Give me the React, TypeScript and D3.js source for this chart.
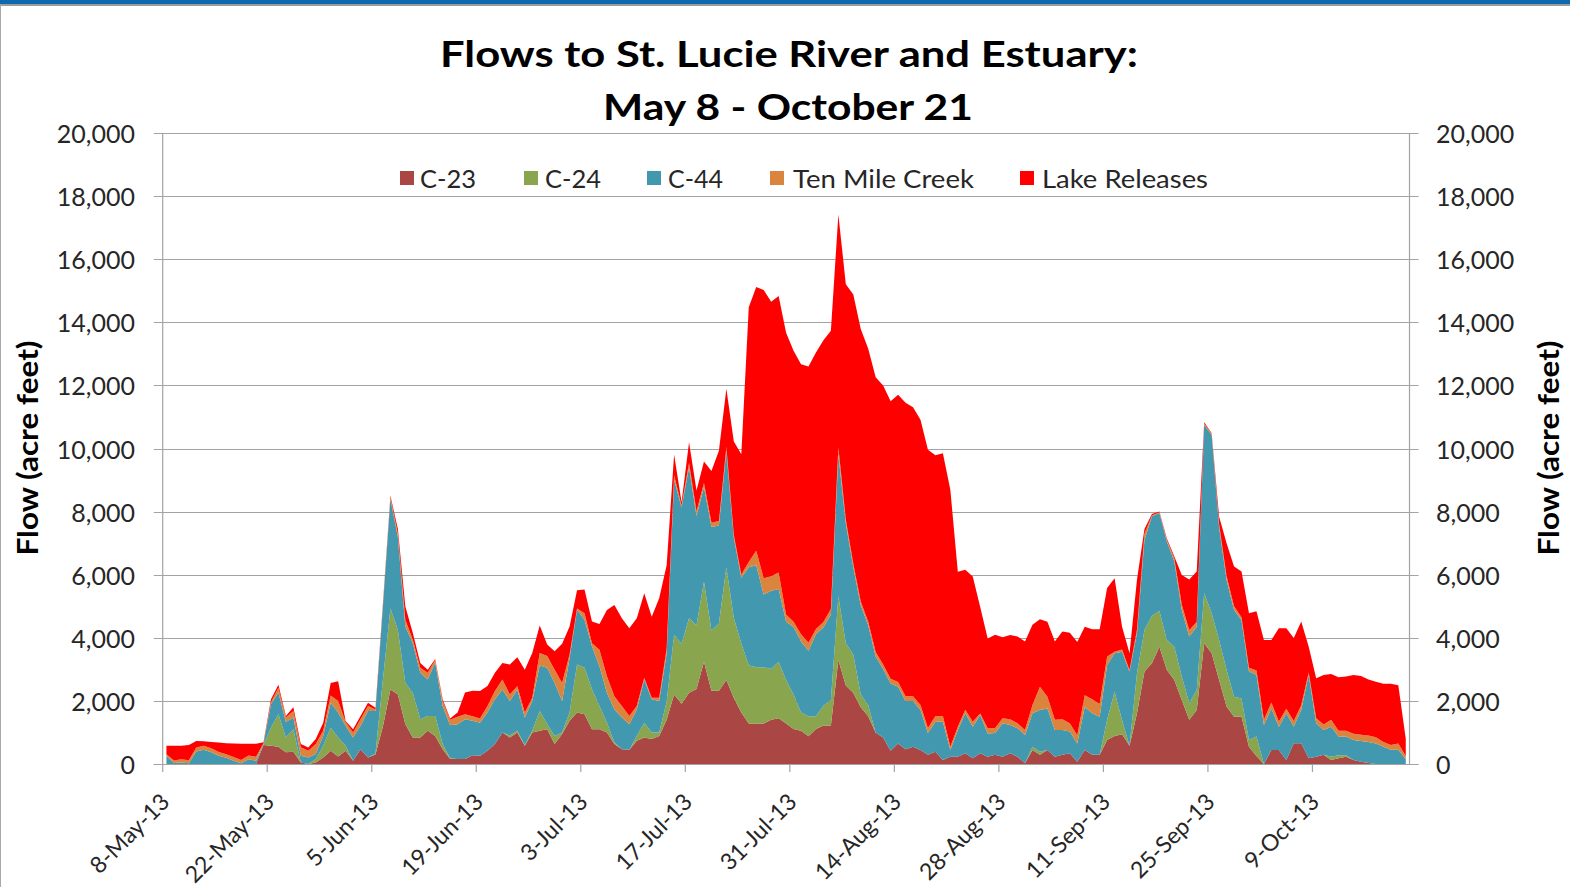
import React from 'react';
import * as d3 from 'd3';

// ---------- DATA (daily flows, acre feet) ----------
const startDate = new Date(2013, 4, 8); // 8-May-13, daily through 21-Oct-13

const seriesNames = ['C-23', 'C-24', 'C-44', 'Ten Mile Creek', 'Lake Releases'];

const c23 = [
  0, 0, 0, 0, 0, 0, 0, 0, 0, 0, 0, 0, 0, 600, 580, 550, 370, 390, 50, 0,
  50, 210, 420, 240, 420, 100, 470, 210, 300, 1200, 2360, 2200, 1260, 840, 840, 1050, 890, 470, 160, 160,
  160, 280, 260, 420, 630, 1000, 840, 1000, 580, 1000, 1050, 1100, 630, 950, 1370, 1630, 1580, 1100, 1100, 1000,
  630, 470, 450, 740, 840, 790, 890, 1400, 2200, 1910, 2260, 2380, 3240, 2320, 2320, 2660, 2090, 1630, 1280, 1280,
  1280, 1400, 1450, 1280, 1110, 1050, 880, 1110, 1220, 1220, 3300, 2490, 2260, 1800, 1510, 990, 840, 420, 650, 470,
  550, 440, 290, 390, 130, 230, 230, 340, 180, 340, 230, 290, 230, 340, 230, 20, 440, 290, 440, 230,
  290, 340, 70, 440, 290, 290, 760, 890, 940, 580, 1610, 2930, 3190, 3720, 2980, 2660, 2030, 1400, 1710, 3830,
  3510, 2660, 1820, 1500, 1500, 550, 250, 0, 440, 440, 130, 660, 660, 180, 230, 290, 130, 180, 230, 130,
  70, 30, 0, 0, 0, 0, 0,
];

const c24 = [
  0, 0, 0, 0, 0, 0, 0, 0, 0, 0, 0, 0, 0, 10, 570, 1030, 470, 710, 0, 0,
  110, 370, 730, 600, 160, 0, 0, 0, 30, 1480, 2570, 2050, 1310, 1420, 580, 470, 630, 160, 20, 0,
  0, 0, 0, 0, 0, 0, 60, 50, 20, 50, 630, 160, 260, 50, 260, 1520, 1470, 1270, 740, 310,
  50, 0, 0, 150, 470, 210, 110, 570, 1900, 1900, 2360, 2020, 2540, 1900, 2130, 3570, 2540, 2190, 1850, 1790,
  1790, 1610, 1790, 1380, 1090, 580, 630, 400, 630, 810, 2020, 1330, 1210, 400, 350, 0, 0, 0, 0, 0,
  0, 0, 0, 0, 0, 0, 0, 0, 0, 0, 0, 0, 0, 0, 0, 0, 110, 100, 0, 0,
  0, 0, 0, 0, 0, 0, 640, 1400, 450, 0, 1270, 1320, 1510, 1130, 950, 1060, 740, 530, 630, 1580,
  1270, 1270, 1160, 630, 580, 210, 620, 0, 0, 0, 0, 0, 0, 0, 0, 0, 100, 100, 50, 0,
  0, 0, 0, 0, 0, 0, 0,
];

const c44 = [
  250, 30, 50, 20, 400, 450, 370, 260, 200, 100, 20, 150, 100, 30, 740, 690, 490, 370, 210, 210,
  160, 310, 790, 790, 630, 740, 740, 1470, 1350, 2320, 3470, 2940, 1790, 1570, 1470, 1160, 1700, 1210, 1050, 1100,
  1260, 1090, 1050, 1210, 1420, 1360, 1100, 1310, 870, 950, 1440, 1790, 1680, 1000, 1730, 1730, 1520, 1360, 1260, 950,
  1050, 1000, 810, 840, 1370, 1050, 1000, 1530, 4900, 4320, 4780, 3460, 3000, 3290, 3110, 3690, 2540, 2080, 3110, 3230,
  2300, 2480, 2310, 1850, 2140, 2250, 2080, 2600, 2480, 2710, 4490, 3800, 2770, 2830, 2540, 2420, 2170, 2130, 1800, 1530,
  1450, 1270, 690, 950, 1210, 210, 850, 1270, 1000, 1210, 740, 690, 1060, 900, 900, 900, 1060, 1320, 1320, 850,
  790, 690, 580, 1370, 1320, 1210, 1740, 1220, 2170, 2350, 1270, 2850, 3150, 3100, 3120, 2700, 2110, 2110, 2010, 5340,
  5650, 3570, 2850, 2750, 2480, 2170, 1960, 1240, 1320, 740, 1480, 530, 1060, 2640, 1060, 790, 950, 590, 590, 630,
  660, 670, 650, 550, 450, 450, 150,
];

const tenMile = [
  60, 80, 100, 100, 120, 130, 130, 120, 110, 120, 110, 120, 130, 20, 70, 150, 140, 210, 270, 210,
  310, 160, 230, 370, 120, 160, 210, 160, 50, 50, 50, 110, 210, 110, 160, 210, 80, 160, 170, 240,
  160, 140, 130, 210, 260, 320, 200, 110, 160, 100, 400, 370, 420, 570, 110, 50, 210, 100, 520, 520,
  420, 370, 260, 110, 50, 50, 100, 150, 150, 60, 140, 150, 130, 140, 140, 130, 90, 110, 160, 460,
  520, 460, 520, 230, 170, 230, 250, 170, 170, 170, 230, 120, 110, 120, 110, 140, 140, 150, 150, 150,
  150, 160, 160, 180, 180, 110, 100, 110, 160, 50, 160, 160, 160, 180, 160, 160, 260, 740, 370, 320,
  340, 260, 260, 370, 440, 400, 270, 50, 70, 50, 110, 200, 30, 30, 50, 90, 170, 210, 150, 40,
  30, 100, 120, 120, 90, 120, 130, 160, 190, 170, 140, 170, 140, 80, 160, 170, 220, 180, 180, 200,
  200, 200, 200, 150, 150, 200, 100,
];

const lake = [
  270, 470, 430, 480, 210, 140, 200, 300, 350, 430, 510, 370, 410, 30, 90, 90, 50, 120, 100, 100,
  160, 260, 400, 620, 30, 100, 100, 100, 50, 50, 50, 150, 420, 210, 150, 100, 30, 50, 40, 130,
  690, 810, 870, 630, 580, 520, 950, 910, 1360, 1420, 870, 370, 580, 1240, 890, 580, 750, 690, 820, 2100,
  2890, 2780, 2780, 2780, 2680, 2570, 3150, 2650, 660, 110, 660, 660, 680, 1640, 2230, 1840, 2960, 3810, 8080, 8360,
  9130, 8700, 8760, 8930, 8590, 8560, 8760, 8760, 8930, 8820, 7380, 7470, 8530, 8640, 8650, 8710, 8850, 8800, 9100, 9300,
  9160, 9040, 8820, 8270, 8330, 8140, 4910, 4440, 4600, 3380, 2850, 2960, 2570, 2670, 2750, 2800, 2540, 2140, 2380, 2480,
  2780, 2870, 2960, 2170, 2220, 2370, 2170, 2330, 720, 530, 1590, 150, 40, 20, 50, 70, 940, 1600, 1600, 40,
  20, 240, 1050, 1260, 1450, 1730, 1880, 2530, 1980, 2950, 2550, 2630, 2660, 820, 1270, 1570, 1450, 1700, 1720, 1860,
  1860, 1780, 1760, 1840, 1940, 1850, 550,
];

const seriesValues = [c23, c24, c44, tenMile, lake];
const yTickValues = [0, 2000, 4000, 6000, 8000, 10000, 12000, 14000, 16000, 18000, 20000];
const titleLines = ['Flows to St. Lucie River and Estuary:', 'May 8 - October 21'];
const axisTitle = 'Flow (acre feet)';

// ---------- STYLE / LAYOUT ----------
const seriesColors = ['#AA4643', '#89A54E', '#4198AF', '#DB843D', '#FF0000'];
const legendMarkerX = [400, 524, 647, 770, 1020];
const legendTextGap = [20, 21, 21, 23, 22];
const legendTextLen = [56, 56, 55, 181, 166];
const FONT = "Lato, 'Open Sans', 'Liberation Sans', sans-serif";

export default function App() {
  const W = 1570;
  const H = 887;
  const left = 162.7;
  const right = 1409.5;
  const top = 133;
  const bottom = 764;

  const n = c23.length;
  const dates = d3.range(n).map((i) => d3.timeDay.offset(startDate, i));
  const endDate = d3.timeDay.offset(startDate, n);

  const x = d3.scaleTime().domain([startDate, endDate]).range([left, right]);
  const y = d3.scaleLinear().domain([0, 20000]).range([bottom, top]);

  const rows = dates.map((date, i) => {
    const r: any = { date };
    seriesNames.forEach((name, k) => {
      r[name] = seriesValues[k][i];
    });
    return r;
  });

  const stacked = d3.stack<any>().keys(seriesNames)(rows);
  const mid = (d: Date) => (x(d) + x(d3.timeDay.offset(d, 1))) / 2;
  const area = d3
    .area<any>()
    .x((d) => mid(d.data.date))
    .y0((d) => y(d[0]))
    .y1((d) => y(d[1]))
    .curve(d3.curveLinear);

  const xTicks = d3.timeDay.range(startDate, endDate, 14);
  const fmt = d3.timeFormat('%-d-%b-%y');
  const gridColor = '#A3A3A3';
  const textColor = '#262626';

  return (
    <svg
      width={W}
      height={H}
      style={{ position: 'absolute', left: 0, top: 0, background: '#fff' }}
      fontFamily={FONT}
    >
      <rect x={0} y={0} width={W} height={H} fill="#fff" />
      <rect x={0} y={0} width={W} height={4} fill="#0E68B0" />
      <rect x={0} y={4} width={W} height={2} fill="#9C9C9C" />
      <line x1={0.5} y1={5} x2={0.5} y2={H} stroke="#A8A8A8" strokeWidth={1} />

      {/* title */}
      <text x={789} y={67} textAnchor="middle" fontSize={37} fontWeight="bold" fill="#000"
        textLength={698} lengthAdjust="spacingAndGlyphs">{titleLines[0]}</text>
      <text x={788} y={120} textAnchor="middle" fontSize={37} fontWeight="bold" fill="#000"
        textLength={370} lengthAdjust="spacingAndGlyphs">{titleLines[1]}</text>

      {/* gridlines */}
      {yTickValues.map((v) => (
        <line key={'g' + v} x1={left - 9} x2={right + 9} y1={Math.round(y(v)) + 0.5} y2={Math.round(y(v)) + 0.5}
          stroke={gridColor} strokeWidth={1.2} />
      ))}

      {/* stacked areas */}
      {stacked.map((s, k) => (
        <path key={seriesNames[k]} d={area(s) || ''} fill={seriesColors[k]} stroke="none" />
      ))}

      {/* axes */}
      <line x1={left} x2={left} y1={top} y2={bottom} stroke={gridColor} strokeWidth={1.2} />
      <line x1={right} x2={right} y1={top} y2={bottom} stroke={gridColor} strokeWidth={1.2} />
      <line x1={left - 9} x2={right + 9} y1={Math.round(y(0)) + 0.5} y2={Math.round(y(0)) + 0.5} stroke={gridColor} strokeWidth={1.2} />
      {xTicks.map((d, i) => (
        <line key={'xt' + i} x1={x(d)} x2={x(d)} y1={bottom} y2={bottom + 8} stroke={gridColor} strokeWidth={1.2} />
      ))}

      {/* y tick labels */}
      {yTickValues.map((v) => (
        <text key={'yl' + v} x={135} y={y(v)} textAnchor="end" dominantBaseline="central"
          fontSize={25} fill={textColor}>{d3.format(',')(v)}</text>
      ))}
      {yTickValues.map((v) => (
        <text key={'yr' + v} x={1436} y={y(v)} textAnchor="start" dominantBaseline="central"
          fontSize={25} fill={textColor}>{d3.format(',')(v)}</text>
      ))}

      {/* x tick labels */}
      {xTicks.map((d, i) => (
        <text key={'xl' + i} transform={`translate(${x(d) + 2},${797}) rotate(-45)`}
          textAnchor="end" dominantBaseline="central" fontSize={23} fill={textColor}>{fmt(d)}</text>
      ))}

      {/* axis titles */}
      <text transform={`translate(27,448) rotate(-90)`} textAnchor="middle" dominantBaseline="central"
        fontSize={28} fontWeight="bold" fill="#000" textLength={215} lengthAdjust="spacingAndGlyphs">{axisTitle}</text>
      <text transform={`translate(1548,448) rotate(-90)`} textAnchor="middle" dominantBaseline="central"
        fontSize={28} fontWeight="bold" fill="#000" textLength={215} lengthAdjust="spacingAndGlyphs">{axisTitle}</text>

      {/* legend */}
      {seriesNames.map((name, k) => (
        <g key={'lg' + k}>
          <rect x={legendMarkerX[k]} y={171} width={14} height={14} fill={seriesColors[k]} />
          <text x={legendMarkerX[k] + legendTextGap[k]} y={178} dominantBaseline="central"
            fontSize={25} fill={textColor} textLength={legendTextLen[k]} lengthAdjust="spacingAndGlyphs">{name}</text>
        </g>
      ))}
    </svg>
  );
}
